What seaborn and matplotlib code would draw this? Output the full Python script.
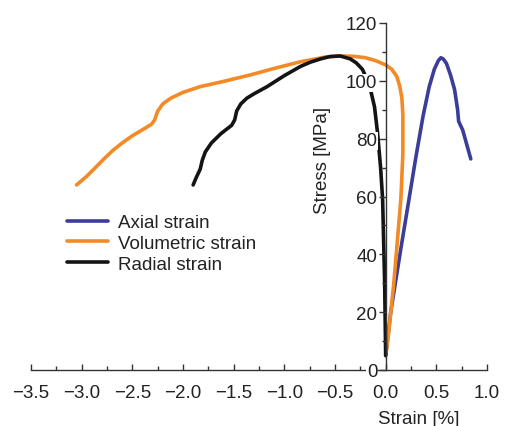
import matplotlib
matplotlib.use("Agg")
import matplotlib.pyplot as plt
from matplotlib.ticker import MultipleLocator
import pandas as pd
import seaborn as sns

# strain [%] / stress [MPa]
axial_x = [0.0, 0.05, 0.10, 0.15, 0.23, 0.30, 0.37, 0.43, 0.48, 0.52, 0.545, 0.57, 0.60, 0.64, 0.68,
           0.71, 0.72, 0.74, 0.76, 0.80, 0.84]
axial_y = [5, 20, 31, 42, 59, 74, 88, 98, 104, 107, 108, 107.5, 106, 102, 97, 90, 86, 84.5, 83, 78, 73]

vol_x = [0.0, 0.03, 0.08, 0.15, 0.17, 0.17, 0.16, 0.14, 0.11, 0.06, 0.0, -0.1, -0.2, -0.32, -0.45, -0.6,
         -0.84, -1.1, -1.34, -1.6, -1.83, -2.0, -2.12, -2.2, -2.25, -2.28, -2.31, -2.38, -2.5, -2.6,
         -2.69, -2.78, -2.85, -2.95, -3.05]
vol_y = [5, 13, 30, 59, 75, 88, 94, 98, 101.5, 104, 105.5, 107, 108, 108.5, 108.6, 108.2,
         106.6, 104.3, 102, 99.8, 98, 96, 94, 92, 89.5, 86.5, 85, 83.5, 81, 78.5,
         76, 73, 70.5, 67, 64]

rad_x = [0.0, -0.01, -0.03, -0.05, -0.08, -0.11, -0.15, -0.19, -0.23, -0.29, -0.35, -0.45, -0.55, -0.64,
         -0.74, -0.84, -1.0, -1.17, -1.3, -1.37, -1.43, -1.47, -1.49, -1.52, -1.58, -1.63, -1.72, -1.78,
         -1.81, -1.83, -1.87, -1.90]
rad_y = [5, 30, 59, 70, 82, 91, 97, 101, 104, 106.2, 107.6, 108.6, 108.4, 107.6, 106.5, 105,
         101.8, 98, 95.5, 94, 92, 89.6, 86.5, 84.6, 83, 81.6, 78.5, 75.4, 72.5, 69.5, 66.5, 64]

names = ["Axial strain", "Volumetric strain", "Radial strain"]
colors = ["#3b3d98", "#f28a26", "#141414"]

df = pd.concat([
    pd.DataFrame({"strain": axial_x, "stress": axial_y, "series": names[0]}),
    pd.DataFrame({"strain": vol_x, "stress": vol_y, "series": names[1]}),
    pd.DataFrame({"strain": rad_x, "stress": rad_y, "series": names[2]}),
])

sns.set_style("white")
plt.rcParams["font.family"] = ["Liberation Sans", "DejaVu Sans"]
fs = 13.5

fig = plt.figure(figsize=(5.05, 4.27), dpi=100)
ax = fig.add_axes([31 / 505, 1 - 371 / 427, 456 / 505, 347 / 427])

sns.lineplot(data=df, x="strain", y="stress", hue="series", sort=False, estimator=None,
             palette=dict(zip(names, colors)), linewidth=2.6, ax=ax)
for ln in ax.get_lines():
    ln.set_solid_joinstyle("round")
    ln.set_solid_capstyle("round")

ax.set_axisbelow(False)

ax.spines["top"].set_visible(False)
ax.spines["right"].set_visible(False)
ax.spines["left"].set_position(("data", 0))
for s in ["left", "bottom"]:
    ax.spines[s].set_color("#333333")
    ax.spines[s].set_linewidth(1.0)

ax.xaxis.set_major_locator(MultipleLocator(0.5))
ax.xaxis.set_minor_locator(MultipleLocator(0.25))
ax.yaxis.set_major_locator(MultipleLocator(20))
ax.yaxis.set_minor_locator(MultipleLocator(10))
ax.set_xlim(-3.5, 1.0)
ax.set_ylim(0, 120)

ax.tick_params(bottom=True, left=True, which="both")
ax.tick_params(axis="x", which="major", direction="in", length=4.5, width=1, color="#333333", pad=10)
ax.tick_params(axis="x", which="minor", direction="in", length=3, width=1, color="#333333")
ax.tick_params(axis="y", which="major", direction="out", length=5, width=1, color="#333333", pad=1)
ax.tick_params(axis="y", which="minor", direction="out", length=3, width=1, color="#333333")
ax.tick_params(labelcolor="#222222", labelsize=fs)

for lab in ax.get_yticklabels():
    lab.set_bbox(dict(facecolor="white", edgecolor="none", pad=0.3))

ax.set_xlabel("Strain [%]", color="#222222", fontsize=fs)
ax.xaxis.set_label_coords((419 - 31) / 456, (371 - 411) / 347)
ax.set_ylabel("Stress [MPa]", color="#222222", fontsize=fs)
ax.yaxis.set_label_coords((331 - 31) / 456, (371 - 160) / 347)

leg = ax.legend(loc="upper left", bbox_to_anchor=(67 / 505, 1 - 215 / 427), bbox_transform=fig.transFigure,
                frameon=False, handlelength=2.2, handletextpad=0.5, labelspacing=0.2,
                borderpad=0, borderaxespad=0, fontsize=fs)
for t in leg.get_texts():
    t.set_color("#222222")

fig.savefig("out.png", dpi=100)
